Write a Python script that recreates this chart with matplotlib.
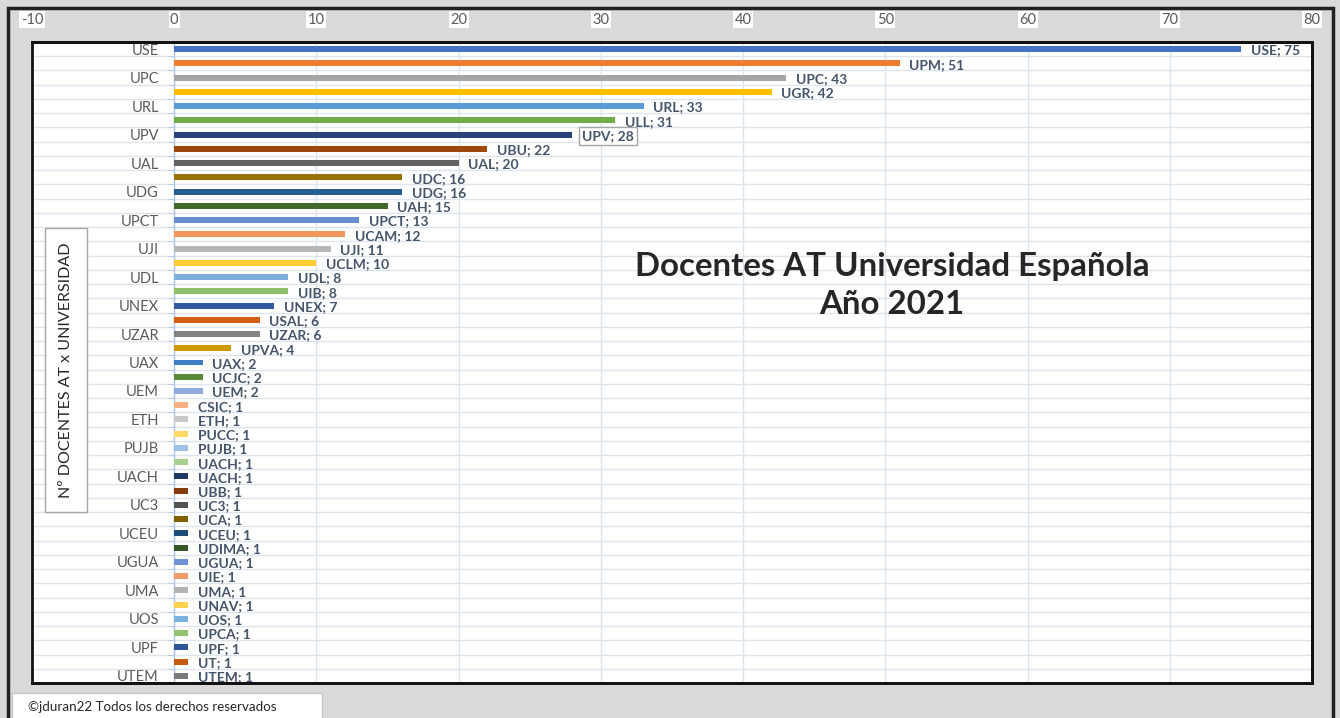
import matplotlib.pyplot as plt
from matplotlib.patches import Rectangle

universidades = ['USE', 'UPM', 'UPC', 'UGR', 'URL', 'ULL', 'UPV', 'UBU', 'UAL', 'UDC',
                 'UDG', 'UAH', 'UPCT', 'UCAM', 'UJI', 'UCLM', 'UDL', 'UIB', 'UNEX', 'USAL',
                 'UZAR', 'UPVA', 'UAX', 'UCJC', 'UEM', 'CSIC', 'ETH', 'PUCC', 'PUJB', 'UACH',
                 'UACH', 'UBB', 'UC3', 'UCA', 'UCEU', 'UDIMA', 'UGUA', 'UIE', 'UMA', 'UNAV',
                 'UOS', 'UPCA', 'UPF', 'UT', 'UTEM']
docentes = [75, 51, 43, 42, 33, 31, 28, 22, 20, 16,
            16, 15, 13, 12, 11, 10, 8, 8, 7, 6,
            6, 4, 2, 2, 2, 1, 1, 1, 1, 1,
            1, 1, 1, 1, 1, 1, 1, 1, 1, 1,
            1, 1, 1, 1, 1]
colores = ['#4472C4', '#ED7D31', '#A5A5A5', '#FFC000', '#5B9BD5', '#70AD47',
           '#264478', '#9E480E', '#636363', '#997300', '#255E91', '#43682B',
           '#698ED0', '#F1975A', '#B7B7B7', '#FFCD33', '#7CAFDD', '#8CC168',
           '#335AA1', '#D26012', '#848484', '#CC9A00', '#3C7DC4', '#5A8A39',
           '#8FAADC', '#F4B183', '#C9C9C9', '#FFD966', '#9DC3E6', '#A9D18E',
           '#1F3864', '#843C0C', '#525252', '#7F6000', '#1F4E79', '#375623',
           '#6F93D6', '#F19A6B', '#B2B2B2', '#FFD24D', '#7EB2DE', '#8FC56E',
           '#2E5597', '#C55A11', '#7B7B7B']
xticks = [-10, 0, 10, 20, 30, 40, 50, 60, 70, 80]

plt.rcParams['font.family'] = ['Lato', 'DejaVu Sans']

fig = plt.figure(figsize=(13.4, 7.18), dpi=100, facecolor='#d9d9d9')
# marco exterior
fig.patches.append(Rectangle((8/1340, -0.01), 1325/1340, 1 - 8/718 + 0.01, transform=fig.transFigure,
                             fill=False, edgecolor='#222222', linewidth=2.5))
ax = fig.add_axes([32/1340, 1 - 683/718, 1280/1340, 641/718])
ax.set_facecolor('white')

pos = list(range(len(universidades)))
ax.barh(pos, docentes, height=0.42, color=colores, zorder=3)
ax.set_ylim(len(universidades) - 0.5, -0.5)
ax.set_xlim(-10, 80)

for i, (u, v) in enumerate(zip(universidades, docentes)):
    box = None
    if u == 'UPV':
        box = dict(boxstyle='square,pad=0.25', facecolor='white', edgecolor='#a6a6a6', linewidth=1)
    ax.annotate(f'{u}; {v}', (v, i), xytext=(7, -1), textcoords='offset points',
                ha='left', va='center', fontsize=10, fontweight='bold', color='#44546A',
                bbox=box, zorder=4)

# eje superior
ax.xaxis.tick_top()
ax.set_xticks(xticks)
ax.set_xticklabels([str(t) for t in xticks], color='#595959', fontsize=10.5,
                   bbox=dict(facecolor='white', edgecolor='none', pad=1))
ax.tick_params(axis='x', length=0, pad=11)

# eje vertical en x=0
ax.spines['left'].set_position(('data', 0))
ax.spines['left'].set_color('#b4c7e7')
ax.spines['left'].set_linewidth(1)
ax.set_yticks(pos[::2])
ax.set_yticklabels(universidades[::2], color='#595959', fontsize=10.5)
ax.set_yticks([p - 0.5 for p in pos] + [len(pos) - 0.5], minor=True)
ax.tick_params(axis='y', which='major', length=0, pad=11)
ax.tick_params(axis='y', which='minor', length=4, color='#b4c7e7')

for s in ['top', 'right', 'bottom']:
    ax.spines[s].set_color('#111111')
    ax.spines[s].set_linewidth(2)
ax.add_patch(Rectangle((0, 0), 1, 1, transform=ax.transAxes, fill=False,
                       edgecolor='#111111', linewidth=2, zorder=6, clip_on=False))

ax.grid(axis='x', which='major', color='#dde4ee', linewidth=1, zorder=0)
ax.grid(axis='y', which='minor', color='#dde4ee', linewidth=1, zorder=0)
ax.grid(axis='y', which='major', visible=False)

ax.text(0.672, 0.62, 'Docentes AT Universidad Española\nAño 2021', transform=ax.transAxes,
        ha='center', va='center', fontsize=23.8, fontweight='bold', color='#262626',
        linespacing=1.38, zorder=5)

fig.text(66/1340, 1 - 370/718, 'Nº DOCENTES AT x UNIVERSIDAD', rotation=90, ha='center', va='center',
         fontsize=11.5, color='#262626',
         bbox=dict(boxstyle='square,pad=0.9', facecolor='white', edgecolor='#a6a6a6', linewidth=1))

fig.text(28/1340, 1 - 707/718, '©jduran22 Todos los derechos reservados', ha='left', va='center',
         fontsize=9.6, color='#262626')
fig.patches.append(Rectangle((12/1340, -0.01), 310/1340, 25/718 + 0.01, transform=fig.transFigure,
                             facecolor='white', edgecolor='#c8c8c8', linewidth=1, zorder=0))

plt.savefig('out.png', dpi=100, facecolor=fig.get_facecolor())
